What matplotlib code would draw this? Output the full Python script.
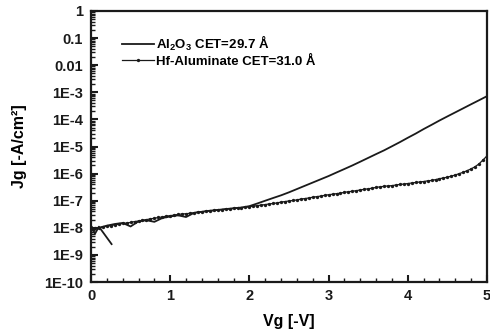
import numpy as np
import matplotlib
matplotlib.use("Agg")
import matplotlib.pyplot as plt
from matplotlib.ticker import FixedLocator, FuncFormatter, LogLocator, MultipleLocator

plt.rcParams['font.family'] = ['Liberation Sans', 'DejaVu Sans']
plt.rcParams['font.weight'] = 'bold'
plt.rcParams['mathtext.fontset'] = 'custom'
plt.rcParams['mathtext.rm'] = 'Liberation Sans:bold'
plt.rcParams['mathtext.bf'] = 'Liberation Sans:bold'
plt.rcParams['mathtext.default'] = 'bf'

# ---- data ----
al_noise_v = [0.0, 0.01, 0.05, 0.10, 0.26]
al_noise_j = [5e-9, 1.1e-8, 6e-9, 1.1e-8, 2.5e-9]

al_v = [0.1, 0.2, 0.3, 0.4, 0.5, 0.6, 0.7, 0.8, 0.9, 1.0,
        1.1, 1.2, 1.3, 1.4, 1.5, 1.6, 1.7, 1.8, 1.9, 2.0,
        2.1, 2.2, 2.3, 2.4, 2.5, 2.6, 2.7, 2.8, 2.9, 3.0,
        3.1, 3.2, 3.3, 3.4, 3.5, 3.6, 3.7, 3.8, 3.9, 4.0,
        4.1, 4.2, 4.3, 4.4, 4.5, 4.6, 4.7, 4.8, 4.9, 5.0]
al_j = [1.0e-8, 1.2e-8, 1.38e-8, 1.51e-8, 1.12e-8, 1.74e-8, 1.9e-8, 1.66e-8, 2.29e-8, 2.63e-8,
        2.88e-8, 2.5e-8, 3.55e-8, 3.9e-8, 4.27e-8, 4.57e-8, 4.9e-8, 5.25e-8, 5.6e-8, 6.3e-8,
        7.9e-8, 1.0e-7, 1.26e-7, 1.58e-7, 2.04e-7, 2.69e-7, 3.55e-7, 4.68e-7, 6.17e-7, 8.13e-7,
        1.1e-6, 1.48e-6, 2.0e-6, 2.75e-6, 3.8e-6, 5.25e-6, 7.2e-6, 1.02e-5, 1.45e-5, 2.1e-5,
        3.0e-5, 4.4e-5, 6.3e-5, 9.1e-5, 1.29e-4, 1.82e-4, 2.57e-4, 3.63e-4, 5.1e-4, 7.2e-4]

hf_v = [0.00, 0.05, 0.10, 0.15, 0.20, 0.25, 0.30, 0.35, 0.40, 0.45,
        0.50, 0.55, 0.60, 0.65, 0.70, 0.75, 0.80, 0.85, 0.90, 0.95,
        1.00, 1.05, 1.10, 1.15, 1.20, 1.25, 1.30, 1.35, 1.40, 1.45,
        1.50, 1.55, 1.60, 1.65, 1.70, 1.75, 1.80, 1.85, 1.90, 1.95,
        2.00, 2.05, 2.10, 2.15, 2.20, 2.25, 2.30, 2.35, 2.40, 2.45,
        2.50, 2.55, 2.60, 2.65, 2.70, 2.75, 2.80, 2.85, 2.90, 2.95,
        3.00, 3.05, 3.10, 3.15, 3.20, 3.25, 3.30, 3.35, 3.40, 3.45,
        3.50, 3.55, 3.60, 3.65, 3.70, 3.75, 3.80, 3.85, 3.90, 3.95,
        4.00, 4.05, 4.10, 4.15, 4.20, 4.25, 4.30, 4.35, 4.40, 4.45,
        4.50, 4.55, 4.60, 4.65, 4.70, 4.75, 4.80, 4.85, 4.90, 4.95, 5.00]
hf_j = [8.9e-9, 9.5e-9, 1.0e-8, 1.07e-8, 1.15e-8, 1.2e-8, 1.29e-8, 1.35e-8, 1.45e-8, 1.51e-8,
        1.58e-8, 1.7e-8, 1.78e-8, 1.9e-8, 2.0e-8, 2.14e-8, 2.24e-8, 2.4e-8, 2.5e-8, 2.7e-8,
        2.8e-8, 2.95e-8, 3.1e-8, 3.25e-8, 3.3e-8, 3.45e-8, 3.6e-8, 3.8e-8, 3.9e-8, 4.1e-8,
        4.25e-8, 4.35e-8, 4.55e-8, 4.7e-8, 4.9e-8, 5.0e-8, 5.25e-8, 5.4e-8, 5.6e-8, 5.75e-8,
        6.0e-8, 6.3e-8, 6.6e-8, 6.9e-8, 7.2e-8, 7.6e-8, 7.9e-8, 8.3e-8, 8.9e-8, 9.3e-8,
        9.8e-8, 1.02e-7, 1.07e-7, 1.15e-7, 1.2e-7, 1.26e-7, 1.35e-7, 1.41e-7, 1.48e-7, 1.58e-7,
        1.66e-7, 1.74e-7, 1.82e-7, 1.9e-7, 2.04e-7, 2.14e-7, 2.24e-7, 2.34e-7, 2.5e-7, 2.63e-7,
        2.75e-7, 2.9e-7, 3.1e-7, 3.25e-7, 3.4e-7, 3.5e-7, 3.6e-7, 3.8e-7, 4.0e-7, 4.1e-7,
        4.3e-7, 4.5e-7, 4.7e-7, 4.9e-7, 5.1e-7, 5.4e-7, 5.6e-7, 6.0e-7, 6.5e-7, 6.9e-7,
        7.4e-7, 8.1e-7, 8.9e-7, 1.0e-6, 1.12e-6, 1.29e-6, 1.5e-6, 1.8e-6, 2.3e-6, 3.2e-6, 4.5e-6]

y_ticks = [1, 0.1, 0.01, 1e-3, 1e-4, 1e-5, 1e-6, 1e-7, 1e-8, 1e-9, 1e-10]
y_tick_labels = ['1', '0.1', '0.01', '1E-3', '1E-4', '1E-5', '1E-6', '1E-7', '1E-8', '1E-9', '1E-10']
x_ticks = [0, 1, 2, 3, 4, 5]

label_al = r'Al$_2$O$_3$ CET=29.7 Å'
label_hf = 'Hf-Aluminate CET=31.0 Å'

# ---- figure ----
fig = plt.figure(figsize=(4.9, 3.32), dpi=100)
ax = fig.add_axes([91/490, 1 - 282/332, (487 - 91)/490, (282 - 11)/332])

ax.plot(al_noise_v, al_noise_j, color='#1a1a1a', lw=1.3)
ax.plot(al_v, al_j, color='#1a1a1a', lw=1.3, label=label_al)
ax.plot(hf_v, hf_j, color='#1a1a1a', lw=0.9, marker='o', ms=2.4,
        markeredgewidth=0, label=label_hf)

ax.set_yscale('log')
ax.set_xlim(0, 5)
ax.set_ylim(1e-10, 1)
ax.yaxis.set_major_locator(FixedLocator(y_ticks))
ax.yaxis.set_major_formatter(FuncFormatter(
    lambda v, p: y_tick_labels[y_ticks.index(min(y_ticks, key=lambda t: abs(np.log10(t) - np.log10(v))))]))
ax.yaxis.set_minor_locator(LogLocator(base=10, subs=np.arange(2, 10), numticks=20))
ax.yaxis.set_minor_formatter(FuncFormatter(lambda v, p: ''))
ax.xaxis.set_major_locator(FixedLocator(x_ticks))
ax.xaxis.set_minor_locator(MultipleLocator(0.2))

ax.tick_params(which='both', direction='in', colors='#1a1a1a', labelsize=10.5)
ax.tick_params(which='major', length=5, width=1.5)
ax.tick_params(which='minor', length=3, width=1)
ax.tick_params(axis='y', which='major', pad=6)
ax.tick_params(axis='x', which='major', pad=5)
for s in ax.spines.values():
    s.set_linewidth(1.6)
    s.set_color('#1a1a1a')

for lab in ax.get_xticklabels() + ax.get_yticklabels():
    lab.set_fontweight('bold')

ax.set_xlabel('Vg [-V]', fontsize=11.5, fontweight='bold', labelpad=8)
ax.set_ylabel('Jg [-A/cm²]', fontsize=11.5, fontweight='bold', labelpad=12)

leg = ax.legend(loc='upper left', bbox_to_anchor=(0.065, 0.935), frameon=False,
                fontsize=9.5, handlelength=2.4, handletextpad=0.15, labelspacing=0.2,
                borderaxespad=0)
for t in leg.get_texts():
    t.set_fontweight('bold')

fig.savefig('out.png', dpi=100)
